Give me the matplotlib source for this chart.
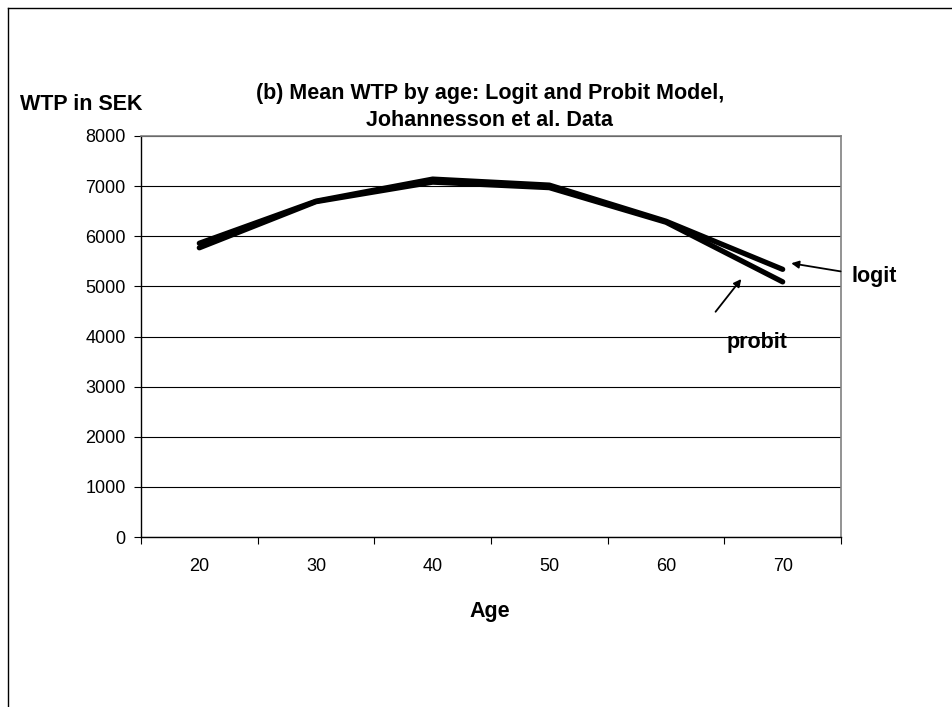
import matplotlib
matplotlib.use("Agg")
import matplotlib.pyplot as plt
from matplotlib.lines import Line2D
import numpy as np

plt.rcParams['font.family'] = ['Liberation Sans', 'DejaVu Sans']

ages = ["20", "30", "40", "50", "60", "70"]
logit = [5860, 6700, 7140, 7020, 6300, 5340]
probit = [5770, 6690, 7080, 6970, 6280, 5090]
yticks = [0, 1000, 2000, 3000, 4000, 5000, 6000, 7000, 8000]

BOLD = 15.5
REG = 13

fig = plt.figure(figsize=(9.52, 7.07), dpi=100)
ax = fig.add_axes([141/952, 1-537/707, 700/952, 401/707])

x = np.arange(len(ages))
for s in (logit, probit):
    ax.plot(x, s, color='black', lw=3.8, solid_capstyle='round', solid_joinstyle='round', zorder=3)

ax.set_xlim(-0.5, len(ages) - 0.5)
ax.set_ylim(0, 8000)
ax.set_yticks(yticks)
ax.set_yticklabels([str(v) for v in yticks], fontsize=REG)
ax.set_xticks(x)
ax.set_xticklabels(ages, fontsize=REG)
ax.set_xticks(np.arange(-0.5, len(ages)), minor=True)
ax.tick_params(axis='x', which='major', length=0, pad=15)
ax.tick_params(axis='x', which='minor', length=5, width=0.8, direction='out')
ax.tick_params(axis='y', which='major', length=5, width=0.8, direction='out', pad=6)
ax.yaxis.grid(True, color='black', lw=0.8)
ax.set_axisbelow(True)
for side in ('top', 'right'):
    ax.spines[side].set_color('#808080')
    ax.spines[side].set_linewidth(1.2)
for side in ('left', 'bottom'):
    ax.spines[side].set_color('black')
    ax.spines[side].set_linewidth(1.0)

fig.text(490/952, 1-612/707, "Age", ha='center', va='center', fontsize=BOLD, fontweight='bold')
fig.text(490/952, 1-94/707, "(b) Mean WTP by age: Logit and Probit Model,", ha='center', va='center',
         fontsize=BOLD, fontweight='bold')
fig.text(490/952, 1-120/707, "Johannesson et al. Data", ha='center', va='center',
         fontsize=BOLD, fontweight='bold')
fig.text(20/952, 1-104/707, "WTP in SEK", ha='left', va='center', fontsize=BOLD, fontweight='bold')

ax.annotate("", xy=(5.05, 5470), xytext=(5.52, 5290),
            arrowprops=dict(arrowstyle='-|>', color='black', lw=1.3, mutation_scale=11), annotation_clip=False)
ax.text(5.59, 5190, "logit", ha='left', va='center', fontsize=BOLD, fontweight='bold', clip_on=False)
ax.annotate("", xy=(4.66, 5190), xytext=(4.41, 4450),
            arrowprops=dict(arrowstyle='-|>', color='black', lw=1.3, mutation_scale=11), annotation_clip=False)
ax.text(4.78, 3890, "probit", ha='center', va='center', fontsize=BOLD, fontweight='bold', clip_on=False)

fig.add_artist(Line2D([8/952, 8/952], [0, 1-8/707], color='black', lw=1.0, transform=fig.transFigure))
fig.add_artist(Line2D([8/952, 1], [1-8/707, 1-8/707], color='black', lw=1.0, transform=fig.transFigure))

fig.savefig("out.png", dpi=100)
